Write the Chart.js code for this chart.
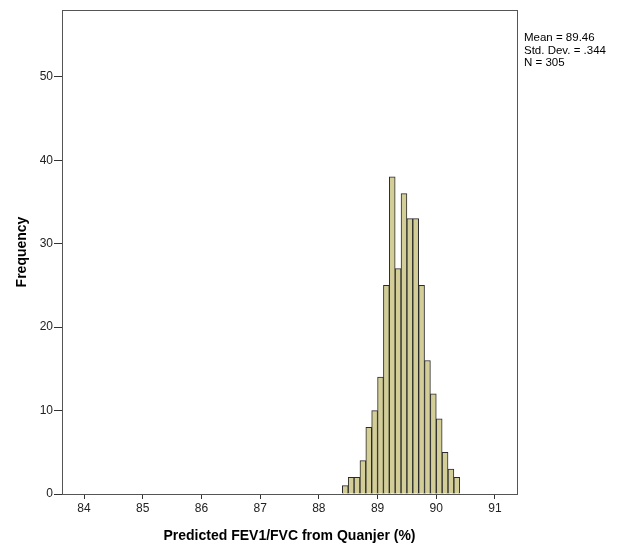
<!DOCTYPE html>
<html>
<head>
<meta charset="utf-8">
<script src="https://cdn.jsdelivr.net/npm/chart.js@4/dist/chart.umd.min.js"></script>
<style>
  html, body { margin: 0; padding: 0; background: #ffffff; }
  #wrap { position: relative; width: 626px; height: 545px; }
  #stats { position: absolute; left: 524px; top: 31px; font-family: "Liberation Sans", Arial, sans-serif; font-size: 11.5px; line-height: 12.5px; color: #000; }
</style>
</head>
<body>
<div id="wrap">
  <canvas id="c" width="626" height="545"></canvas>
  <div id="stats"><div>Mean = 89.46</div><div>Std. Dev. = .344</div><div>N = 305</div></div>
</div>
<script>
// Bin centers (bin width 0.1) and frequencies
const binCenters = [88.45, 88.55, 88.65, 88.75, 88.85, 88.95, 89.05, 89.15, 89.25, 89.35,
                    89.45, 89.55, 89.65, 89.75, 89.85, 89.95, 90.05, 90.15, 90.25, 90.35];
const frequencies = [1, 2, 2, 4, 8, 10, 14, 25, 38, 27, 36, 33, 33, 25, 16, 12, 9, 5, 3, 2];
const xTickValues = [84, 85, 86, 87, 88, 89, 90, 91];
const yTickValues = [0, 10, 20, 30, 40, 50];
const xRange = [83.625, 91.375];
const yRange = [0, 58];

const FONT = '"Liberation Sans", Arial, sans-serif';

const framePlugin = {
  id: 'frame',
  afterDraw(chart) {
    const a = chart.chartArea, ctx = chart.ctx;
    ctx.save();
    ctx.strokeStyle = '#555555';
    ctx.lineWidth = 1;
    ctx.strokeRect(Math.round(a.left) + 0.5, Math.round(a.top) + 0.5,
                   Math.round(a.right - a.left), Math.round(a.bottom - a.top));
    ctx.restore();
  }
};

new Chart(document.getElementById('c'), {
  type: 'bar',
  data: {
    datasets: [{
      data: binCenters.map((x, i) => ({ x: x, y: frequencies[i] })),
      backgroundColor: '#D3CE97',
      borderColor: '#2a2a2a',
      borderWidth: 1,
      borderSkipped: 'bottom',
      barPercentage: 1.0,
      categoryPercentage: 1.0
    }]
  },
  options: {
    responsive: false,
    animation: false,
    layout: { padding: { top: 10, right: 109, left: 0, bottom: 0 } },
    plugins: { legend: { display: false }, tooltip: { enabled: false } },
    scales: {
      x: {
        type: 'linear',
        offset: false,
        min: xRange[0],
        max: xRange[1],
        afterBuildTicks: s => { s.ticks = xTickValues.map(v => ({ value: v })); },
        afterFit: s => { s.height = 51; },
        grid: { display: true, offset: false, drawOnChartArea: false, drawTicks: true, tickLength: 5, color: '#333333' },
        border: { display: true, color: '#555555' },
        ticks: { font: { family: FONT, size: 12 }, color: '#222222', padding: 2, maxRotation: 0 },
        title: { display: true, text: 'Predicted FEV1/FVC from Quanjer (%)', font: { family: FONT, size: 14, weight: 'bold' }, color: '#000', padding: { top: 6, bottom: 0 } }
      },
      y: {
        type: 'linear',
        min: yRange[0],
        max: yRange[1],
        afterBuildTicks: s => { s.ticks = yTickValues.map(v => ({ value: v })); },
        afterFit: s => { s.width = 62; },
        grid: { display: true, drawOnChartArea: false, drawTicks: true, tickLength: 8, color: '#333333' },
        border: { display: true, color: '#555555' },
        ticks: { font: { family: FONT, size: 12 }, color: '#222222', padding: 1 },
        title: { display: true, text: 'Frequency', font: { family: FONT, size: 14, weight: 'bold' }, color: '#000', padding: { top: 14, bottom: 4 } }
      }
    }
  },
  plugins: [framePlugin]
});
</script>
</body>
</html>
